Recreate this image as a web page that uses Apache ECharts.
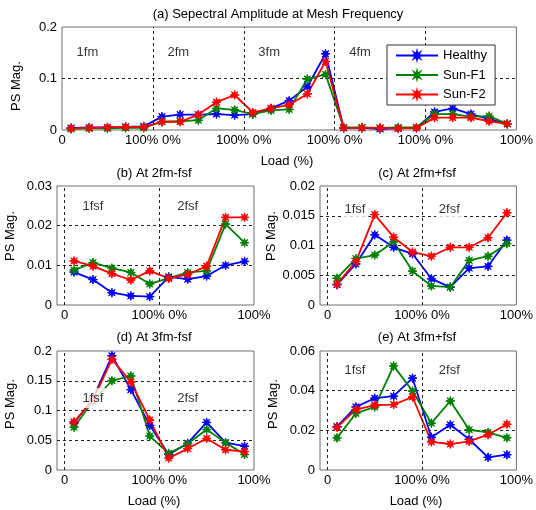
<!DOCTYPE html>
<html><head><meta charset="utf-8">
<script src="https://cdn.jsdelivr.net/npm/echarts@6/dist/echarts.min.js"></script>
<style>html,body{margin:0;padding:0;background:#fff}#c{width:536px;height:510px}</style>
</head><body><div id="c"></div>
<script>
// ---------- data ----------
const seriesNames = ['Healthy', 'Sun-F1', 'Sun-F2'];
const loadPct = [10, 30, 50, 70, 90];
const topTickLabels = ['0', '100% 0%', '100% 0%', '100% 0%', '100% 0%', '100%'];
const sideTickLabels = ['0', '100% 0%', '100%'];
const harmonicLabels = ['1fm', '2fm', '3fm', '4fm'];
const sidebandLabels = ['1fsf', '2fsf'];

// (a) mesh frequency, 5 harmonics x 5 loads
const aHealthy = [0.004,0.005,0.005,0.006,0.007, 0.026,0.030,0.030,0.031,0.029, 0.031,0.042,0.057,0.084,0.148, 0.004,0.004,0.002,0.003,0.004, 0.035,0.042,0.031,0.021,0.012];
const aSunF1   = [0.002,0.003,0.003,0.004,0.004, 0.016,0.017,0.019,0.042,0.039, 0.031,0.038,0.040,0.099,0.108, 0.005,0.005,0.004,0.005,0.005, 0.031,0.031,0.026,0.027,0.012];
const aSunF2   = [0.003,0.004,0.005,0.006,0.006, 0.016,0.016,0.030,0.054,0.068, 0.034,0.042,0.049,0.070,0.133, 0.004,0.004,0.004,0.003,0.004, 0.024,0.024,0.024,0.017,0.012];
// (b) 2fm-fsf
const bHealthy = [0.0083,0.0064,0.0031,0.0023,0.0021, 0.0071,0.0065,0.0073,0.0100,0.0110];
const bSunF1   = [0.0088,0.0107,0.0093,0.0082,0.0053, 0.0068,0.0082,0.0086,0.0204,0.0157];
const bSunF2   = [0.0111,0.0098,0.0079,0.0063,0.0086, 0.0067,0.0077,0.0098,0.0221,0.0221];
// (c) 2fm+fsf
const cHealthy = [0.0034,0.0069,0.0118,0.0097,0.0086, 0.0044,0.0030,0.0062,0.0065,0.0109];
const cSunF1   = [0.0045,0.0078,0.0084,0.0106,0.0057, 0.0032,0.0030,0.0075,0.0082,0.0103];
const cSunF2   = [0.0035,0.0073,0.0152,0.0114,0.0089, 0.0082,0.0097,0.0097,0.0113,0.0155];
// (d) 3fm-fsf
const dHealthy = [0.079,0.120,0.192,0.135,0.075, 0.026,0.045,0.080,0.046,0.040];
const dSunF1   = [0.072,0.116,0.150,0.158,0.057, 0.028,0.044,0.068,0.046,0.026];
const dSunF2   = [0.081,0.118,0.186,0.148,0.084, 0.020,0.036,0.053,0.034,0.031];
// (e) 3fm+fsf
const eHealthy = [0.0219,0.0318,0.0362,0.0372,0.0463, 0.0165,0.0228,0.0155,0.0064,0.0077];
const eSunF1   = [0.0162,0.0285,0.0318,0.0525,0.0398, 0.0236,0.0348,0.0203,0.0190,0.0162];
const eSunF2   = [0.0215,0.0305,0.0327,0.0330,0.0368, 0.0142,0.0131,0.0144,0.0178,0.0231];

// ---------- layout / style ----------
const FONT = '"Liberation Sans", Arial, Helvetica, sans-serif';
const colors = ['#0000ff', '#008000', '#ff0000'];
const STAR = 'path://M20 10 L13.7 11.53 L17.07 17.07 L11.53 13.7 L10 20 L8.47 13.7 L2.93 17.07 L6.3 11.53 L0 10 L6.3 8.47 L2.93 2.93 L8.47 6.3 L10 0 L11.53 6.3 L17.07 2.93 L13.7 8.47 Z';

const panels = [
  {data:[aHealthy,aSunF1,aSunF2], grid:{left:62,right:19,top:27,bottom:380}, xMin:0, xMax:5, ticks:topTickLabels, tickVals:[0,1,2,3,4,5], yMax:0.2, yInt:0.1, vLines:[1,2,3,4], texts:harmonicLabels, textX0:0.28, textY:0.15},
  {data:[bHealthy,bSunF1,bSunF2], grid:{left:57,right:282,top:186,bottom:205}, xMin:-0.08, xMax:2, ticks:sideTickLabels, tickVals:[0,1,2], yMax:0.03, yInt:0.01, vLines:[0,1], texts:sidebandLabels, textX0:0.3, textY:0.0248},
  {data:[cHealthy,cSunF1,cSunF2], grid:{left:320,right:19,top:186,bottom:205}, xMin:-0.08, xMax:2, ticks:sideTickLabels, tickVals:[0,1,2], yMax:0.02, yInt:0.005, vLines:[0,1], texts:sidebandLabels, textX0:0.29, textY:0.016},
  {data:[dHealthy,dSunF1,dSunF2], grid:{left:57,right:282,top:351,bottom:40}, xMin:-0.08, xMax:2, ticks:sideTickLabels, tickVals:[0,1,2], yMax:0.2, yInt:0.05, vLines:[0,1], texts:sidebandLabels, textX0:0.3, textY:0.121},
  {data:[eHealthy,eSunF1,eSunF2], grid:{left:320,right:19,top:351,bottom:40}, xMin:-0.08, xMax:2, ticks:sideTickLabels, tickVals:[0,1,2], yMax:0.06, yInt:0.02, vLines:[0,1], texts:sidebandLabels, textX0:0.29, textY:0.05}
];

const dashStyle = {color:'#222', type:[3,3], width:1};
const grids = [], xAxes = [], yAxes = [], series = [];

panels.forEach((p, i) => {
  grids.push(Object.assign({show:true, borderColor:'#6e6e6e', borderWidth:1, backgroundColor:'#fff', containLabel:false}, p.grid));
  xAxes.push({
    type:'value', gridIndex:i, min:p.xMin, max:p.xMax,
    axisLine:{show:false}, axisTick:{show:false}, splitLine:{show:false},
    axisLabel:{customValues:p.tickVals, showMinLabel:true, showMaxLabel:true, hideOverlap:false, margin:4,
      color:'#000', fontSize:13, fontFamily:FONT,
      formatter:(v) => p.ticks[Math.round(v)]}
  });
  yAxes.push({
    type:'value', gridIndex:i, min:0, max:p.yMax, interval:p.yInt,
    axisLine:{show:false}, axisTick:{show:false},
    splitLine:{show:true, showMinLine:false, showMaxLine:false, lineStyle:dashStyle},
    axisLabel:{margin:5, color:'#000', fontSize:13, fontFamily:FONT}
  });
  // vertical dotted separators
  series.push({
    type:'line', xAxisIndex:i, yAxisIndex:i, data:[], z:1, silent:true,
    markLine:{silent:true, symbol:'none', animation:false, label:{show:false}, lineStyle:dashStyle,
      emphasis:{disabled:true}, data:p.vLines.map(v => ({xAxis:v}))}
  });
  p.data.forEach((arr, k) => {
    series.push({
      name:seriesNames[k], type:'line', xAxisIndex:i, yAxisIndex:i, z:3,
      data:arr.map((v, j) => [Math.floor(j / 5) + loadPct[j % 5] / 100, v]),
      symbol:STAR, symbolSize:9, showAllSymbol:true,
      lineStyle:{color:colors[k], width:1.8},
      itemStyle:{color:colors[k], borderColor:colors[k], borderWidth:1},
      emphasis:{disabled:true}
    });
  });
  // region labels (white background, drawn above the lines)
  series.push({
    type:'scatter', xAxisIndex:i, yAxisIndex:i, z:6, silent:true, symbolSize:1,
    itemStyle:{color:'rgba(0,0,0,0)'},
    label:{show:true, position:'inside', formatter:'{b}', color:'#000', fontSize:13, fontFamily:FONT,
      backgroundColor:'#fff', padding:[3,3], lineHeight:14},
    emphasis:{disabled:true},
    data:p.texts.map((t, j) => ({name:t, value:[p.textX0 + j, p.textY]}))
  });
});

const textItems = [
  ['(a) Sepectral Amplitude at Mesh Frequency', 278, 14],
  ['Load (%)', 287, 161],
  ['(b) At 2fm-fsf', 154, 173], ['(c) At 2fm+fsf', 417, 173],
  ['(d) At 3fm-fsf', 154, 337], ['(e) At 3fm+fsf', 417, 337],
  ['Load (%)', 154, 501], ['Load (%)', 416, 501]
];
const yLabelPos = [[16, 86], [10, 236], [271, 236], [10, 404], [273, 404]];
const graphics = textItems.map(t => ({
  type:'text', x:t[1], y:t[2], z:10,
  style:{text:t[0], fill:'#000', fontSize:13, fontFamily:FONT, align:'center', verticalAlign:'middle'}
})).concat(yLabelPos.map(pos => ({
  type:'text', x:pos[0], y:pos[1], rotation:Math.PI / 2, z:10,
  style:{text:'PS Mag.', fill:'#000', fontSize:13, fontFamily:FONT, align:'center', verticalAlign:'middle'}
})));

const chart = echarts.init(document.getElementById('c'), null, {renderer:'canvas'});
chart.setOption({
  animation:false,
  backgroundColor:'#fff',
  grid:grids, xAxis:xAxes, yAxis:yAxes,
  legend:{
    data:seriesNames, orient:'vertical', left:387, top:45, z:8,
    itemWidth:42, itemHeight:9, itemGap:4.5, padding:[3,8,3,8],
    borderColor:'#333', borderWidth:1, backgroundColor:'#fff', selectedMode:false,
    textStyle:{fontSize:13, color:'#000', fontFamily:FONT, lineHeight:15}
  },
  graphic:graphics,
  series:series
});
</script>
</body></html>
